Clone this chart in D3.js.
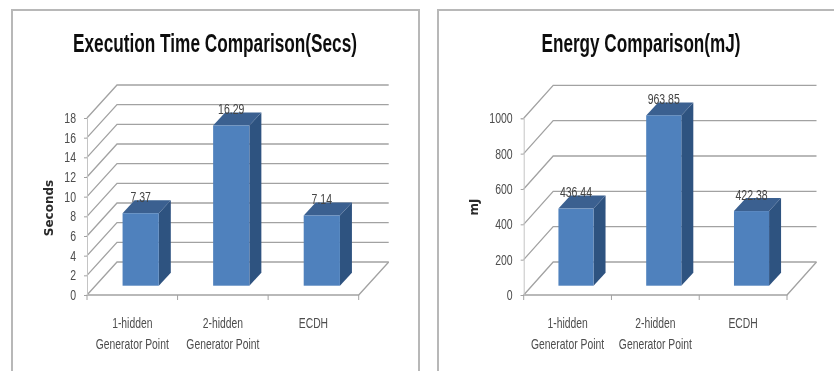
<!DOCTYPE html>
<html>
<head>
<meta charset="utf-8">
<script src="https://cdn.jsdelivr.net/npm/d3@7"></script>
<style>
  html, body { margin: 0; padding: 0; background: #fff; }
  svg { display: block; }
</style>
</head>
<body>
<svg id="chart" width="834" height="371"></svg>
<script>
// Values shown on both panels
const categories = ["1-hidden Generator Point", "2-hidden Generator Point", "ECDH"];
const executionSeconds = [7.37, 16.29, 7.14];
const energyMillijoules = [436.44, 963.85, 422.38];
const secondsTicks = [0, 2, 4, 6, 8, 10, 12, 14, 16, 18];
const energyTicks = [0, 200, 400, 600, 800, 1000];

const svg = d3.select("#chart");
const bodyFont = "'Liberation Sans', sans-serif";
const gridColor = "#a2a2a2";
const labelColor = "#4d4d4d";
const barFront = "#4f81bd";
const barSide = "#2f5280";
const barTop = "#3a6090";

// Horizontally condense a text run about its anchor point
function condense(sel, factor) {
  sel.each(function () {
    const t = d3.select(this);
    const px = +t.attr("x") || 0;
    const py = +t.attr("y") || 0;
    t.attr("x", 0).attr("y", 0)
      .attr("transform", `translate(${px},${py}) scale(${factor},1)`);
  });
}

// The image is uniformly soft, so the whole drawing shares one slight blur
svg.append("defs").append("filter")
  .attr("id", "soft")
  .attr("x", "-2%").attr("y", "-2%").attr("width", "104%").attr("height", "104%")
  .append("feGaussianBlur").attr("stdDeviation", 0.7);

const root = svg.append("g").attr("filter", "url(#soft)");
root.append("rect").attr("width", 834).attr("height", 371).attr("fill", "#fff");

function panel(cfg) {
  const g = root.append("g");
  const { left, right, top, bottom, depthX, depthY, values, ticks, domainMax } = cfg;

  // Outer frame
  g.append("path")
    .attr("d", d3.line()(cfg.frame))
    .attr("fill", "none").attr("stroke", "#b8b8b8").attr("stroke-width", 2);

  // Title
  g.append("text")
    .text(cfg.title)
    .attr("x", cfg.titleX).attr("y", 52)
    .attr("text-anchor", "middle")
    .attr("textLength", cfg.titleWidth).attr("lengthAdjust", "spacingAndGlyphs")
    .attr("font-family", bodyFont).attr("font-weight", "bold")
    .attr("font-size", 25).attr("fill", "#111");

  const y = d3.scaleLinear().domain([0, domainMax]).range([bottom, top]);
  const x = d3.scaleBand().domain(categories).range([left, right]).padding(0);

  // Back wall lines, side wall diagonals
  const grid = g.append("g").attr("stroke", gridColor).attr("stroke-width", 1.3).attr("fill", "none");
  ticks.forEach(t => {
    const yy = y(t);
    grid.append("path").attr("d", d3.line()([
      [left, yy], [left + depthX, yy - depthY], [right + depthX, yy - depthY]
    ]));
  });
  // Floor: right edge and front edge
  grid.append("path").attr("d", d3.line()([
    [right + depthX, bottom - depthY], [right, bottom], [left, bottom]
  ]));

  // Value axis: short ticks and labels
  const yAxis = g.append("g")
    .attr("transform", `translate(${left},0)`)
    .call(d3.axisLeft(y).tickValues(ticks).tickSize(3).tickPadding(8).tickFormat(d3.format("d")));
  yAxis.select(".domain").attr("stroke", "#c4c4c4");
  yAxis.selectAll(".tick line").attr("stroke", gridColor);
  yAxis.selectAll("text")
    .attr("font-family", bodyFont).attr("font-size", 14).attr("fill", labelColor)
    .call(condense, 0.75);

  // Category axis: tick marks on band boundaries, labels wrapped on two lines
  d3.range(categories.length + 1).forEach(i => {
    const tx = left + i * x.step();
    g.append("line")
      .attr("x1", tx).attr("x2", tx).attr("y1", bottom).attr("y2", bottom + 5)
      .attr("stroke", gridColor);
  });
  const catAxis = g.append("g")
    .attr("transform", `translate(0,${bottom})`)
    .call(d3.axisBottom(x).tickSize(0).tickFormat(""));
  catAxis.select(".domain").remove();
  catAxis.selectAll(".tick").each(function (d) {
    const cut = d.indexOf(" ");
    const lines = cut < 0 ? [d] : [d.slice(0, cut), d.slice(cut + 1)];
    d3.select(this).select("text").remove();
    lines.forEach((line, i) => {
      d3.select(this).append("text")
        .text(line)
        .attr("y", 33 + i * 20.5)
        .attr("text-anchor", "middle")
        .attr("font-family", bodyFont).attr("font-size", 14)
        .attr("fill", labelColor)
        .call(condense, 0.74);
    });
  });

  // Axis title
  g.append("text")
    .text(cfg.axisTitle)
    .attr("transform", `translate(${cfg.axisTitleX},${cfg.axisTitleY}) rotate(-90)`)
    .attr("text-anchor", "middle")
    .attr("font-family", "'DejaVu Sans', sans-serif").attr("font-weight", "bold")
    .attr("font-size", 12).attr("fill", "#2a2a2a");

  // Bars: the floor offset sets them back from the axis; heights follow the value scale
  const offX = cfg.floorX;
  const sink = bottom - cfg.barBase;
  const bw = x.bandwidth() * 0.4;
  const bars = g.selectAll(".bar").data(values).join("g").attr("class", "bar");
  const px = (d, i) => x(categories[i]) + (x.bandwidth() - bw) / 2 + offX;
  const py = d => y(d) - sink;
  const dx = 12, dy = 13;
  bars.append("path").attr("fill", barSide).attr("d", (d, i) => d3.line()([
    [px(d, i) + bw, py(d)], [px(d, i) + bw + dx, py(d) - dy],
    [px(d, i) + bw + dx, cfg.barBase - dy], [px(d, i) + bw, cfg.barBase]
  ]));
  bars.append("path").attr("fill", barTop).attr("d", (d, i) => d3.line()([
    [px(d, i), py(d)], [px(d, i) + dx, py(d) - dy],
    [px(d, i) + bw + dx, py(d) - dy], [px(d, i) + bw, py(d)]
  ]));
  bars.append("rect").attr("fill", barFront)
    .attr("x", (d, i) => px(d, i)).attr("y", d => py(d))
    .attr("width", bw).attr("height", d => cfg.barBase - py(d));

  // Value labels sit on the bar tops
  bars.append("text")
    .text(d => d3.format(".2f")(d))
    .attr("x", (d, i) => px(d, i) + bw / 2)
    .attr("y", d => py(d) - 11.5)
    .attr("text-anchor", "middle")
    .attr("font-family", bodyFont).attr("font-size", 14).attr("fill", "#444")
    .call(condense, 0.75);
}

panel({
  title: "Execution Time Comparison(Secs)", titleX: 215, titleWidth: 284,
  axisTitle: "Seconds", axisTitleX: 53, axisTitleY: 208,
  frame: [[12, 371], [12, 10], [419, 10], [419, 371]],
  left: 87, right: 358.7, top: 118, bottom: 295,
  depthX: 30, depthY: 33, floorX: 8.4, barBase: 285.7,
  values: executionSeconds, ticks: secondsTicks, domainMax: 18
});

panel({
  title: "Energy Comparison(mJ)", titleX: 641, titleWidth: 199,
  axisTitle: "mJ", axisTitleX: 478, axisTitleY: 207,
  frame: [[438, 371], [438, 10], [834, 10]],
  left: 523.7, right: 787, top: 118.3, bottom: 295,
  depthX: 29.5, depthY: 33, floorX: 8.4, barBase: 285.7,
  values: energyMillijoules, ticks: energyTicks, domainMax: 1000
});
</script>
</body>
</html>
